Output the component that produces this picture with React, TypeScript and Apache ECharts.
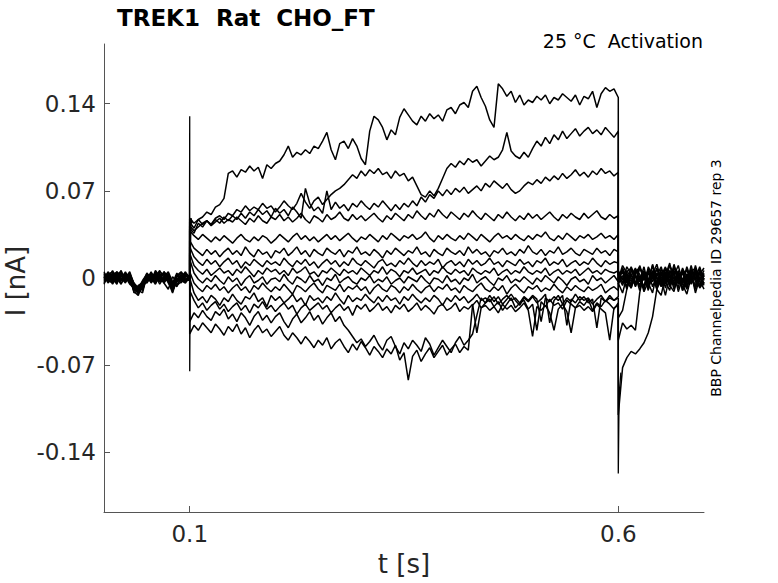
import React, { useEffect, useRef } from "react";
import * as echarts from "echarts";

// Sweep sampling: 5 ms, three segments (pre-pulse, pulse, post-pulse). Values in pA.
const SEGMENTS: [number, number][] = [[0, 0.1], [0.1, 0.6], [0.6, 0.7]];
const DT = 0.005;
const timeGrid: number[] = SEGMENTS.flatMap(([a, b]) => {
  const n = Math.round((b - a) / DT);
  return Array.from({ length: n + 1 }, (_, i) => +(a + i * DT).toFixed(4));
});

const trace01 = [
  2, -3, 4, 0, -5, 3, -1, -8, -10, -4, 1, -2, 5, -3, 0, 3, -6, 2, -1, 4, 0,
  45, 40, 47, 49, 53, 51, 57, 59, 64, 84,
  86, 81, 87, 85, 90, 86, 89, 80, 91, 88,
  92, 94, 99, 106, 97, 101, 99, 103, 100, 106,
  104, 110, 117, 103, 95, 108, 110, 104, 112, 106,
  96, 91, 118, 130, 127, 121, 111, 119, 115, 129,
  136, 131, 126, 123, 130, 126, 132, 128, 131, 126,
  135, 137, 132, 139, 141, 137, 150, 154, 145, 138,
  127, 121, 156, 152, 146, 150, 141, 147, 139, 143,
  141, 146, 143, 147, 140, 145, 143, 148, 145, 142,
  147, 139, 146, 144, 150, 137, 148, 153, 150, 152,
  145,
  2, 6, -4, 9, 1, -7, 5, -2, 10, -5, 3, 7, -3, 11, -1, 4, -8, 6, 0, 9, -2,
];
const trace02 = [
  -4, 1, -2, 5, 2, -3, 0, -9, -12, -6, -2, 3, -1, 4, -4, -9, 1, -3, 2, -2, 1,
  42, 38, 41, 44, 46, 43, 48, 50, 47, 52,
  50, 55, 53, 58, 54, 57, 55, 60, 56, 58,
  53, 57, 62, 58, 55, 60, 68, 61, 56, 62,
  65, 59, 63, 67, 70, 72, 75, 79, 83, 80,
  86, 82, 87, 84, 88, 83, 85, 80, 86, 82,
  84, 78, 81, 74, 67, 65, 70, 66, 72, 80,
  88, 92, 89, 94, 91, 96, 93, 95, 90, 94,
  98, 95, 97, 103, 117, 102, 98, 96, 101, 97,
  104, 110, 106, 113, 108, 115, 111, 118, 112, 116,
  120, 114, 118, 121, 116, 119, 115, 121, 117, 113,
  118,
  -3, 8, 0, -6, 7, 3, -9, 4, -1, 8, -4, 2, 12, -6, 5, -2, 7, -5, 3, -1, 6,
];
const trace03 = [
  3, 0, 6, -2, 1, 4, -3, -6, -11, -8, 0, 2, -4, 1, 3, -2, -10, -3, 0, 5, -1,
  40, 36, 44, 41, 46, 43, 47, 44, 49, 46,
  50, 47, 52, 48, 53, 50, 55, 51, 54, 49,
  56, 52, 55, 50, 57, 53, 48, 72, 60, 54,
  57, 52, 70, 55, 61, 56, 59, 54, 60, 57,
  62, 58, 55, 60, 57, 62, 58, 54, 59, 55,
  60, 57, 62, 58, 65, 61, 67, 64, 70, 66,
  71, 67, 72, 69, 73, 68, 71, 74, 70, 76,
  73, 78, 75, 72, 76, 71, 68, 70, 74, 77,
  75, 79, 76, 81, 78, 82, 79, 84, 80, 83,
  87, 82, 85, 81, 86, 83, 88, 84, 86, 82,
  85,
  4, -2, 9, 3, -5, 10, -1, 6, -7, 2, 9, -3, 5, 0, -8, 7, 2, -4, 10, -2, 4,
];
const trace04 = [
  -1, 4, -3, 2, -4, 0, 5, -5, -9, -2, 3, -1, 2, -5, 1, -1, -4, 4, -2, 1, 2,
  48, 44, 47, 43, 46, 42, 45, 48, 44, 47,
  45, 49, 46, 43, 48, 45, 50, 46, 44, 49,
  47, 51, 46, 49, 45, 48, 52, 47, 44, 50,
  48, 45, 51, 47, 49, 53, 48, 46, 51, 47,
  50, 46, 49, 52, 48, 45, 50, 47, 52, 49,
  46, 51, 48, 54, 50, 47, 52, 49, 55, 51,
  48, 53, 50, 47, 52, 49, 54, 50, 47, 52,
  49, 46, 51, 48, 53, 49, 46, 50, 47, 52,
  48, 51, 47, 50, 53, 49, 46, 51, 48, 52,
  49, 47, 52, 48, 51, 54, 49, 47, 51, 48,
  50,
  0, 5, -7, 2, 8, -3, 6, -9, 3, 11, -2, 5, -6, 8, 1, -4, 9, -1, 4, -7, 2,
];
const trace05 = [
  5, -2, 1, -4, 3, -1, 2, -7, -13, -5, -3, 4, 0, 2, -2, 4, -8, -1, 3, -3, 0,
  38, 34, 31, 35, 32, 29, 33, 30, 34, 31,
  28, 32, 35, 31, 29, 33, 30, 34, 32, 28,
  31, 35, 32, 29, 33, 36, 31, 34, 30, 33,
  29, 32, 35, 31, 34, 30, 33, 36, 32, 29,
  33, 31, 35, 32, 29, 34, 31, 36, 33, 30,
  34, 32, 35, 31, 33, 37, 32, 29, 34, 31,
  35, 32, 30, 34, 31, 36, 33, 30, 35, 32,
  29, 33, 36, 32, 34, 31, 35, 32, 30, 34,
  31, 35, 33, 37, 32, 30, 34, 31, 36, 33,
  30, 34, 32, 35, 31, 33, 36, 32, 34, 31,
  35,
  6, -1, 3, -8, 4, 9, -2, 7, 1, -6, 5, -2, 10, 3, -5, 8, -3, 6, -1, 3, 8,
];
const trace06 = [
  -2, 3, -5, 1, 0, -4, 3, -4, -8, -10, 1, -3, 3, -1, 5, 0, -3, -7, 1, 2, -1,
  30, 24, 21, 18, 23, 19, 22, 17, 21, 24,
  19, 22, 18, 25, 20, 17, 23, 19, 21, 16,
  22, 20, 24, 18, 21, 25, 19, 22, 17, 23,
  20, 18, 24, 21, 19, 23, 17, 22, 20, 25,
  19, 21, 18, 23, 20, 16, 22, 19, 24, 21,
  18, 22, 20, 25, 19, 21, 17, 23, 20, 18,
  24, 21, 19, 22, 18, 25, 20, 23, 19, 21,
  17, 22, 20, 24, 19, 21, 18, 23, 20, 26,
  21, 19, 23, 18, 22, 20, 25, 19, 21, 24,
  20, 18, 23, 21, 19, 24, 20, 22, 18, 23,
  21,
  -1, 10, 4, -3, 6, 0, -7, 9, 2, -4, 7, 1, -5, 9, 3, -1, -9, 5, 8, 0, -4,
];
const trace07 = [
  1, -4, 2, 5, -2, 2, -3, -9, -7, -3, -1, 5, -2, 3, -3, 2, -11, 0, -4, 3, 1,
  25, 17, 13, 10, 15, 11, 14, 9, 13, 16,
  11, 14, 8, 13, 10, 15, 12, 9, 14, 11,
  13, 10, 16, 12, 9, 14, 11, 15, 10, 13,
  8, 12, 15, 11, 14, 9, 13, 10, 16, 12,
  10, 14, 11, 8, 13, 15, 10, 12, 9, 14,
  11, 16, 12, 9, 14, 10, 13, 11, 15, 8,
  12, 14, 10, 13, 9, 15, 11, 14, 10, 12,
  16, 11, 13, 9, 14, 12, 10, 15, 11, 13,
  9, 14, 12, 16, 10, 13, 11, 15, 9, 12,
  14, 10, 13, 11, 16, 12, 9, 14, 11, 13,
  12,
  3, -4, 6, 0, -6, 8, 2, -3, 11, -1, 4, -8, 6, 2, 10, -4, 3, 1, -6, 7, 1,
];
const trace08 = [
  4, 0, -3, 1, 6, -3, 1, -6, -10, -12, 2, -4, 1, 6, 0, -3, -5, -2, 2, -1, -2,
  20, 10, 6, 3, 7, 2, 5, 8, 4, 6,
  2, 7, 4, 9, 5, 1, 6, 3, 8, 5,
  7, 3, 6, 2, 8, 4, 6, 9, 3, 5,
  1, 6, 4, 8, 5, 2, 7, 4, 6, 3,
  8, 5, 2, 6, 4, 9, 3, 7, 5, 1,
  6, 4, 8, 3, 5, 7, 2, 6, 4, 9,
  5, 3, 7, 4, 6, 2, 8, 5, 3, 6,
  4, 8, 2, 5, 7, 3, 6, 4, 9, 5,
  3, 6, 4, 8, 2, 5, 7, 3, 6, 4,
  7, 2, 5, 8, 4, 6, 3, 7, 5, 4,
  6,
  -5, 2, -9, 6, 1, -2, 9, -6, 4, 0, -7, 8, 3, -3, 6, -10, 1, 7, -2, 4, -5,
];
const trace09 = [
  -3, 2, 3, -1, -2, 5, -2, -10, -6, -4, 4, 0, -5, 2, 4, -4, -9, 3, 0, -2, 0,
  15, 4, -1, -4, 0, -3, 2, -2, -5, 1,
  -3, 0, -6, -1, 2, -4, -2, 1, -5, -1,
  0, -3, 3, -2, -5, 1, -1, -4, 2, -3,
  -1, -6, 0, -2, 3, -4, -1, 1, -3, -5,
  0, -2, 2, -4, -1, -3, 1, -5, -2, 0,
  -4, 1, -1, -3, 2, -2, -5, 0, -1, -4,
  2, -3, -1, -5, 0, -2, 3, -4, -1, 1,
  -3, -6, 0, -2, 2, -4, -1, -3, 1, -2,
  -5, 0, -3, 2, -1, -4, 1, -2, -6, -1,
  1, -3, -1, -5, 2, -2, 0, -4, -1, 2,
  -3,
  1, -6, 5, 8, -4, 2, -8, 5, -3, 7, 1, -5, 4, -9, 2, 6, -4, 10, -3, -7, 3,
];
const trace10 = [
  0, 5, -1, 3, 2, -2, 4, -5, -12, -7, -2, 2, 3, -3, 1, 5, -3, -6, -3, 4, 1,
  5, -4, -8, -11, -6, -9, -5, -10, -7, -12,
  -8, -5, -10, -7, -12, -6, -9, -4, -8, -11,
  -7, -10, -5, -9, -13, -6, -8, -11, -7, -4,
  -9, -12, -6, -8, -10, -5, -11, -7, -9, -6,
  -10, -7, -13, -8, -5, -9, -11, -6, -8, -12,
  -7, -10, -5, -9, -12, -8, -6, -11, -7, -9,
  -5, -10, -8, -12, -6, -9, -11, -7, -4, -9,
  -11, -7, -10, -6, -13, -8, -5, -9, -12, -7,
  -9, -6, -11, -8, -10, -5, -9, -12, -7, -10,
  -6, -9, -11, -7, -10, -8, -5, -12, -9, -7,
  -10,
  -2, 7, -3, -8, 3, -6, 4, -10, 6, -4, 2, 9, -7, 1, -3, 5, -6, 2, -9, 5, -1,
];
const trace11 = [
  2, -1, 0, -5, 4, 1, -5, -8, -9, -5, 3, -2, 4, 0, -4, 1, -7, 2, 5, 0, -2,
  0, -12, -18, -15, -20, -14, -17, -22, -16, -19,
  -13, -18, -21, -15, -17, -12, -19, -16, -23, -14,
  -18, -15, -20, -17, -13, -19, -16, -22, -14, -18,
  -16, -20, -15, -18, -12, -17, -21, -14, -19, -16,
  -18, -13, -17, -20, -15, -19, -14, -18, -16, -21,
  -15, -18, -13, -17, -20, -16, -19, -14, -17, -22,
  -16, -19, -14, -18, -15, -20, -17, -13, -18, -16,
  -19, -15, -21, -17, -14, -18, -16, -20, -15, -18,
  -14, -17, -35, -16, -19, -15, -18, -14, -38, -17,
  -20, -15, -18, -16, -21, -17, -14, -19, -16, -18,
  -15,
  -4, -12, 1, -5, 2, -10, 3, -4, -12, 4, -6, 1, -3, 5, -11, 0, -5, -2, 6, -8, -3,
];
const trace12 = [
  -5, 3, 5, 2, -1, -2, 0, -11, -14, -3, -4, 1, -3, 5, 2, -3, -12, -1, -2, -4, 1,
  -10, -18, -24, -20, -26, -22, -19, -25, -21, -27,
  -23, -20, -26, -22, -28, -21, -24, -19, -25, -22,
  -27, -23, -20, -25, -22, -29, -24, -21, -26, -23,
  -20, -25, -22, -28, -24, -21, -26, -23, -30, -22,
  -25, -21, -27, -24, -20, -26, -23, -28, -22, -25,
  -21, -27, -24, -20, -26, -22, -25, -29, -23, -21,
  -26, -24, -20, -27, -23, -25, -21, -44, -24, -22,
  -26, -23, -28, -21, -25, -22, -27, -24, -20, -26,
  -47, -23, -26, -22, -28, -42, -25, -21, -27, -44,
  -24, -22, -26, -23, -27, -21, -25, -28, -50, -24,
  -22,
  -32, -26, -9, 3, -7, 1, -11, -3, 5, -9, -1, -14, 2, -6, 3, -10, -2, 4, -12, 0, -6,
];
const trace13 = [
  3, -2, -4, 4, 1, 4, -4, -7, -8, -9, 1, 3, 0, -2, 5, 0, -6, 1, 4, 2, -1,
  -45, -38, -42, -36, -40, -44, -37, -41, -46, -39,
  -43, -37, -45, -40, -48, -42, -38, -44, -41, -47,
  -43, -39, -46, -50, -44, -48, -53, -47, -51, -56,
  -50, -54, -48, -57, -52, -49, -55, -60, -53, -58,
  -51, -56, -62, -55, -59, -64, -57, -61, -54, -66,
  -60, -82, -63, -58, -67, -61, -56, -64, -59, -54,
  -62, -57, -53, -60, -55, -58, -22, -18, -24, -20,
  -17, -23, -19, -26, -21, -16, -24, -20, -18, -25,
  -21, -42, -19, -23, -17, -22, -20, -25, -18, -21,
  -24, -19, -22, -17, -26, -20, -23, -18, -21, -25,
  -20,
  -110, -72, -64, -59, -61, -57, -52, -44, -31, -9, -14, 2, -6, -11, 3, -5, -13, 1, -7, -2, -9,
];
const trace14 = [
  -2, 1, 2, -3, 5, -1, 2, -12, -10, -6, 0, -3, 6, 1, -1, 2, -4, -5, -1, -3, 0,
  -35, -28, -32, -26, -31, -34, -27, -30, -25, -33,
  -29, -35, -28, -32, -38, -31, -27, -34, -30, -36,
  -31, -28, -35, -40, -33, -29, -36, -32, -27, -34,
  -30, -37, -32, -28, -35, -31, -38, -42, -47, -52,
  -49, -55, -51, -46, -53, -58, -50, -47, -55, -61,
  -52, -57, -50, -54, -59, -48, -53, -62, -56, -50,
  -55, -60, -52, -47, -54, -50, -45, -30, -16, -20,
  -14, -19, -15, -21, -17, -13, -18, -22, -16, -19,
  -15, -20, -17, -13, -36, -18, -14, -21, -16, -19,
  -13, -18, -15, -20, -17, -40, -16, -19, -14, -18,
  -16,
  -50, -36, -41, -38, -42, -12, 4, -7, 2, -9, 5, -3, -10, 6, -1, -8, 3, -4, 7, -6, 0,
];

// Capacitive transients at pulse on/offset (pA)
const onsetT = [0.0996, 0.1, 0.1, 0.1008, 0.1016, 0.103];
const onsetI = [0, 130, -75, 20, 48, 44];
const offsetT = [0.5996, 0.6, 0.6008, 0.6016, 0.603];
const offsetI = [-20, -157, -104, -88, -76];

const traces = [trace01, trace02, trace03, trace04, trace05, trace06, trace07,
  trace08, trace09, trace10, trace11, trace12, trace13, trace14];

const xTicks = [0.1, 0.6];
const yTicks = [-0.14, -0.07, 0, 0.07, 0.14];

const FONT = "DejaVu Sans";
const AXIS_COLOR = "#555555";
const TEXT_COLOR = "#262626";

export default function App() {
  const ref = useRef<HTMLDivElement>(null);
  useEffect(() => {
    if (!ref.current) return;
    const chart = echarts.init(ref.current, undefined, { renderer: "svg" });
    const lineStyle = { color: "#000", width: 1.5 };
    const series: any[] = traces.map((tr) => ({
      type: "line",
      data: tr.map((v, i) => [timeGrid[i], v / 1000]),
      symbol: "none",
      showSymbol: false,
      lineStyle,
      silent: true,
    }));
    series.push({
      type: "line",
      data: onsetT.map((t, i) => [t, onsetI[i] / 1000]),
      symbol: "none", lineStyle: { color: "#000", width: 1.3 }, silent: true,
    });
    series.push({
      type: "line",
      data: offsetT.map((t, i) => [t, offsetI[i] / 1000]),
      symbol: "none", lineStyle: { color: "#000", width: 1.3 }, silent: true,
    });
    chart.setOption({
      animation: false,
      backgroundColor: "#fff",
      grid: { left: 104, top: 44, width: 600, height: 468, containLabel: false },
      xAxis: {
        type: "value", min: 0, max: 0.7,
        axisLine: { show: true, onZero: false, lineStyle: { color: AXIS_COLOR, width: 1 } },
        axisTick: { show: true, inside: true, length: 6, customValues: xTicks, lineStyle: { color: AXIS_COLOR } },
        axisLabel: {
          customValues: xTicks, fontSize: 23, fontFamily: FONT, color: TEXT_COLOR, margin: 10,
          formatter: (v: number) => String(v),
        },
        splitLine: { show: false },
      },
      yAxis: {
        type: "value", min: -0.188, max: 0.188,
        axisLine: { show: true, onZero: false, lineStyle: { color: AXIS_COLOR, width: 1 } },
        axisTick: { show: true, inside: true, length: 6, customValues: yTicks, lineStyle: { color: AXIS_COLOR } },
        axisLabel: {
          customValues: yTicks, fontSize: 23, fontFamily: FONT, color: TEXT_COLOR, margin: 8,
          formatter: (v: number) => (Math.abs(v) < 1e-9 ? "0" : v.toFixed(2)),
        },
        splitLine: { show: false },
      },
      series,
      graphic: [
        {
          type: "text", x: 117, y: 18,
          style: { text: "TREK1  Rat  CHO_FT", fontSize: 23, fontWeight: "bold", fontFamily: FONT, fill: "#000", align: "left", verticalAlign: "middle" },
        },
        {
          type: "text", x: 703, y: 41,
          style: { text: "25 °C  Activation", fontSize: 19, fontFamily: FONT, fill: "#000", align: "right", verticalAlign: "middle" },
        },
        {
          type: "text", x: 716, y: 278, rotation: Math.PI / 2,
          style: { text: "BBP Channelpedia ID 29657 rep 3", fontSize: 14, fontFamily: FONT, fill: "#000", align: "center", verticalAlign: "middle" },
        },
        {
          type: "text", x: 16, y: 281, rotation: Math.PI / 2,
          style: { text: "I [nA]", fontSize: 26, fontFamily: FONT, fill: TEXT_COLOR, align: "center", verticalAlign: "middle" },
        },
        {
          type: "text", x: 404, y: 564,
          style: { text: "t [s]", fontSize: 26, fontFamily: FONT, fill: TEXT_COLOR, align: "center", verticalAlign: "middle" },
        },
      ],
    });
    return () => chart.dispose();
  }, []);
  return (
    <div
      ref={ref}
      style={{ position: "fixed", left: 0, top: 0, width: 778, height: 583, background: "#fff" }}
    />
  );
}
